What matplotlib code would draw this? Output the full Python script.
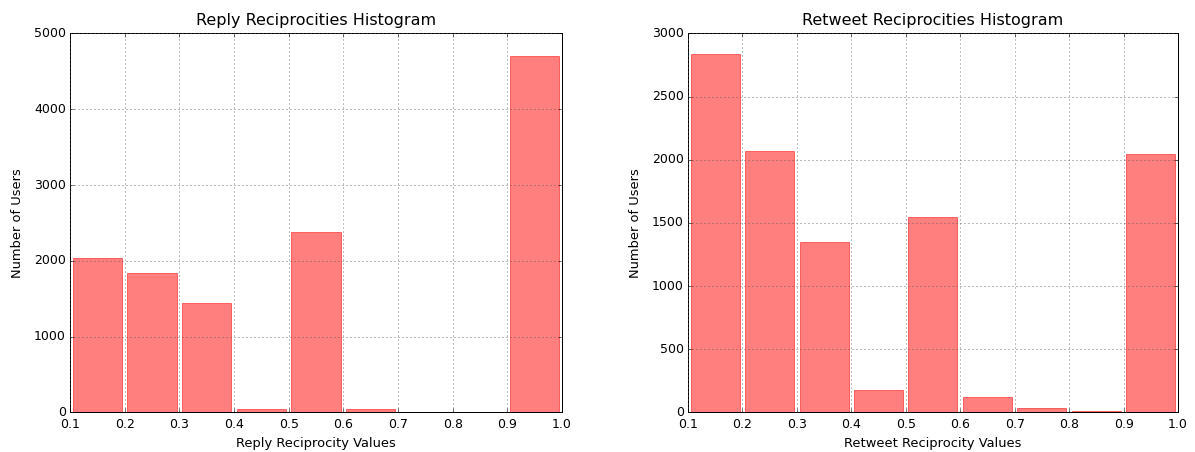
import matplotlib
matplotlib.use("Agg")
import matplotlib.pyplot as plt
import numpy as np

plt.style.use("classic")
plt.rcParams["xtick.labelsize"] = 12.5
plt.rcParams["ytick.labelsize"] = 12.5
plt.rcParams["xtick.major.pad"] = 6
plt.rcParams["axes.labelsize"] = 13
plt.rcParams["axes.titlesize"] = 16

# Histogram bin edges shared by both panels
bin_edges = [0.1, 0.2, 0.3, 0.4, 0.5, 0.6, 0.7, 0.8, 0.9, 1.0]
x_ticks = [0.1, 0.2, 0.3, 0.4, 0.5, 0.6, 0.7, 0.8, 0.9, 1.0]

# Number of users per bin
reply_counts = [2035, 1840, 1450, 50, 2380, 40, 9, 9, 4705]
retweet_counts = [2840, 2066, 1349, 176, 1548, 122, 33, 15, 2042]

reply_yticks = [0, 1000, 2000, 3000, 4000, 5000]
retweet_yticks = [0, 500, 1000, 1500, 2000, 2500, 3000]

fig = plt.figure(figsize=(1195 / 72, 452 / 72), dpi=72, facecolor="white")
ax1 = fig.add_axes([0.0586, 0.0875, 0.4117, 0.8385])
ax2 = fig.add_axes([0.5757, 0.0875, 0.4101, 0.8385])

centers = [(a + b) / 2 for a, b in zip(bin_edges[:-1], bin_edges[1:])]


def draw(ax, counts, yticks, title, xlabel):
    ax.hist(centers, bins=bin_edges, weights=counts, rwidth=0.9,
            facecolor="red", edgecolor="red", linewidth=1.0, alpha=0.5)
    ax.set_xlim(bin_edges[0], bin_edges[-1])
    ax.set_ylim(yticks[0], yticks[-1])
    ax.set_xticks(x_ticks)
    ax.set_yticks(yticks)
    ax.grid(True, color="#555555", linestyle=":", linewidth=0.8)
    ax.set_axisbelow(False)
    ax.set_title(title, y=1.008)
    ax.set_xlabel(xlabel, labelpad=6)
    ax.set_ylabel("Number of Users", labelpad=10)


draw(ax1, reply_counts, reply_yticks,
     "Reply Reciprocities Histogram", "Reply Reciprocity Values")
draw(ax2, retweet_counts, retweet_yticks,
     "Retweet Reciprocities Histogram", "Retweet Reciprocity Values")

fig.savefig("out.png", dpi=72, facecolor="white")
